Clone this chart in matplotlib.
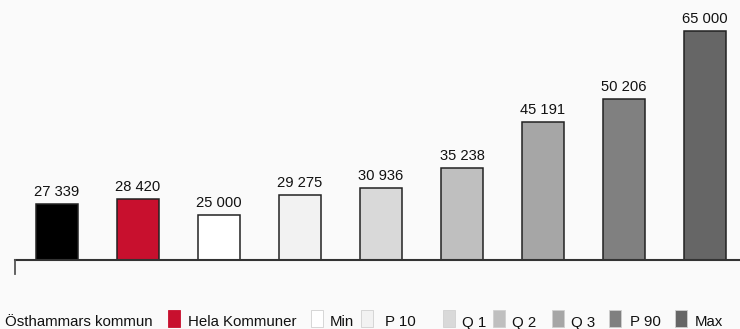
import matplotlib
matplotlib.use("Agg")
import matplotlib.pyplot as plt
from matplotlib.patches import Rectangle
from matplotlib.lines import Line2D

categories = ["Östhammars kommun", "Hela Kommuner", "Min", "P 10", "Q 1", "Q 2", "Q 3", "P 90", "Max"]
values = [27339, 28420, 25000, 29275, 30936, 35238, 45191, 50206, 65000]
labels = ["27 339", "28 420", "25 000", "29 275", "30 936", "35 238", "45 191", "50 206", "65 000"]
colors = ["#000000", "#C8102E", "#FFFFFF", "#F2F2F2", "#D9D9D9", "#BFBFBF", "#A6A6A6", "#808080", "#666666"]

plt.rcParams['font.family'] = ['Liberation Sans', 'DejaVu Sans']

W, H = 740, 329
fig = plt.figure(figsize=(W / 100, H / 100), dpi=100)
fig.patch.set_facecolor("#fafafa")

def fx(px):
    return px / W

def fy(py):
    return 1 - py / H

ax_left, ax_base = 14.5, 259.5
ax = fig.add_axes([fx(ax_left), fy(ax_base), 1 - fx(ax_left), ax_base / H])
ax.set_facecolor("none")

x = list(range(len(categories)))
ax.bar(x, values, width=0.52, color=colors, edgecolor="#222222", linewidth=1.1, zorder=2)
ax.set_xlim(-(57 - ax_left) / 81, 8 + (W - 705) / 81)
ax.set_ylim(15300, 71700)

for xi, v, lab in zip(x, values, labels):
    ax.annotate(lab, (xi, v), xytext=(0, 5.8), textcoords="offset points",
                ha="center", va="baseline", fontsize=10.6, color="#111111")

for s in ["top", "right", "left"]:
    ax.spines[s].set_visible(False)
ax.spines["bottom"].set_linewidth(1.5)
ax.spines["bottom"].set_color("#333333")
ax.set_xticks([])
ax.set_yticks([])

# tick mark at left of baseline
fig.add_artist(Line2D([fx(ax_left), fx(ax_left)], [fy(ax_base), fy(274)],
                      color="#555555", linewidth=1.3))

# manual legend
swatches = [-15, 168, 311, 361, 443, 493, 552, 609, 675]
texts = [5, 188, 330, 385, 462, 512, 571, 630, 695]
for col, sx, tx, name in zip(colors, swatches, texts, categories):
    if sx >= 0:
        fig.add_artist(Rectangle((fx(sx), fy(327)), 12 / W, 17 / H,
                                 facecolor=col, edgecolor="#d0d0d0" if col != "#C8102E" else col,
                                 linewidth=0.6, transform=fig.transFigure))
    fig.text(fx(tx), fy(326.5), name, ha="left", va="baseline", fontsize=10.8, color="#111111")

fig.savefig("out.png", dpi=100, facecolor=fig.get_facecolor())
